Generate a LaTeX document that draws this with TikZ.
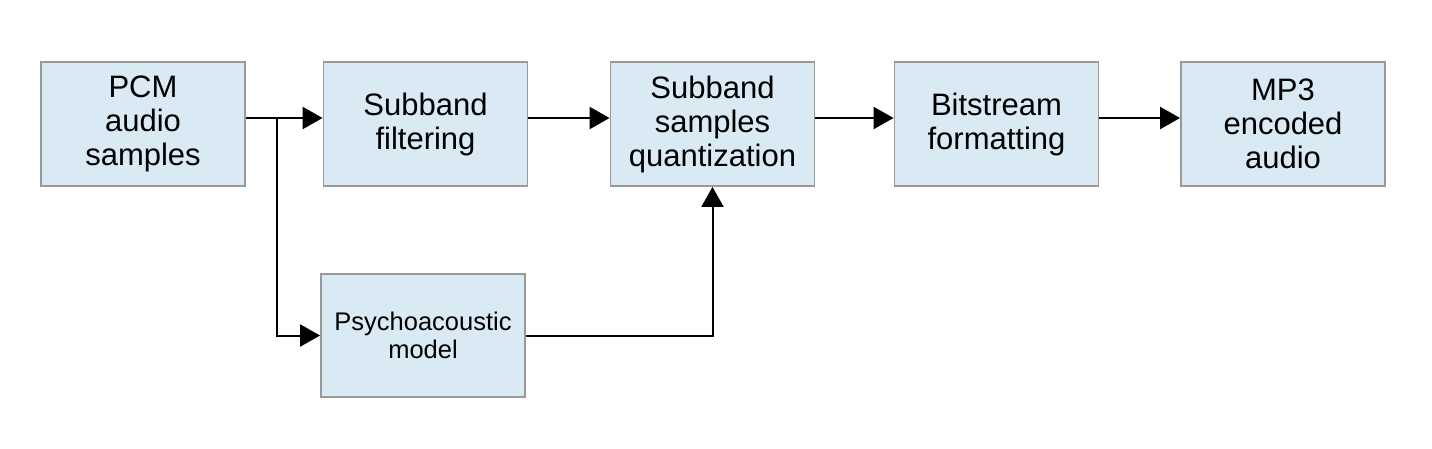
\documentclass[tikz,border=0pt]{standalone}
\usepackage{fontspec}
\setmainfont{Liberation Sans}
\usetikzlibrary{arrows.meta}
\definecolor{boxfill}{HTML}{D9EAF5}
\definecolor{boxline}{HTML}{999999}
\begin{document}
\begin{tikzpicture}[x=1pt,y=-1pt,
  blk/.style={draw=boxline,line width=1.8pt,fill=boxfill,minimum width=204pt,minimum height=124pt,
    inner sep=0pt,align=center,font=\fontsize{31}{34}\selectfont},
  smallblk/.style={blk,font=\fontsize{25.5}{28}\selectfont},
  arr/.style={line width=2pt,-{Triangle[length=20pt,width=22pt]}}]
\useasboundingbox (0,0) rectangle (1432,448);
\node[blk] (pcm) at (143,124) {PCM\\audio\\samples};
\node[blk] (filt) at (425.5,124) {Subband\\filtering};
\node[blk] (quant) at (712.5,124) {Subband\\samples\\quantization};
\node[blk] (bit) at (996.5,124) {Bitstream\\formatting};
\node[blk] (mp3) at (1283,124) {MP3\\encoded\\audio};
\node[smallblk,minimum height=123pt] (psy) at (423,335.5) {Psychoacoustic\\model};
\coordinate (br) at (277,118);
\draw[arr] ([yshift=6pt]pcm.east) -- ([yshift=6pt]filt.west);
\draw[arr] (br) |- (psy.west);
\draw[arr] ([yshift=6pt]filt.east) -- ([yshift=6pt]quant.west);
\draw[arr] ([yshift=6pt]quant.east) -- ([yshift=6pt]bit.west);
\draw[arr] ([yshift=6pt]bit.east) -- ([yshift=6pt]mp3.west);
\draw[arr] (psy.east) -| (quant.south);
\end{tikzpicture}
\end{document}
